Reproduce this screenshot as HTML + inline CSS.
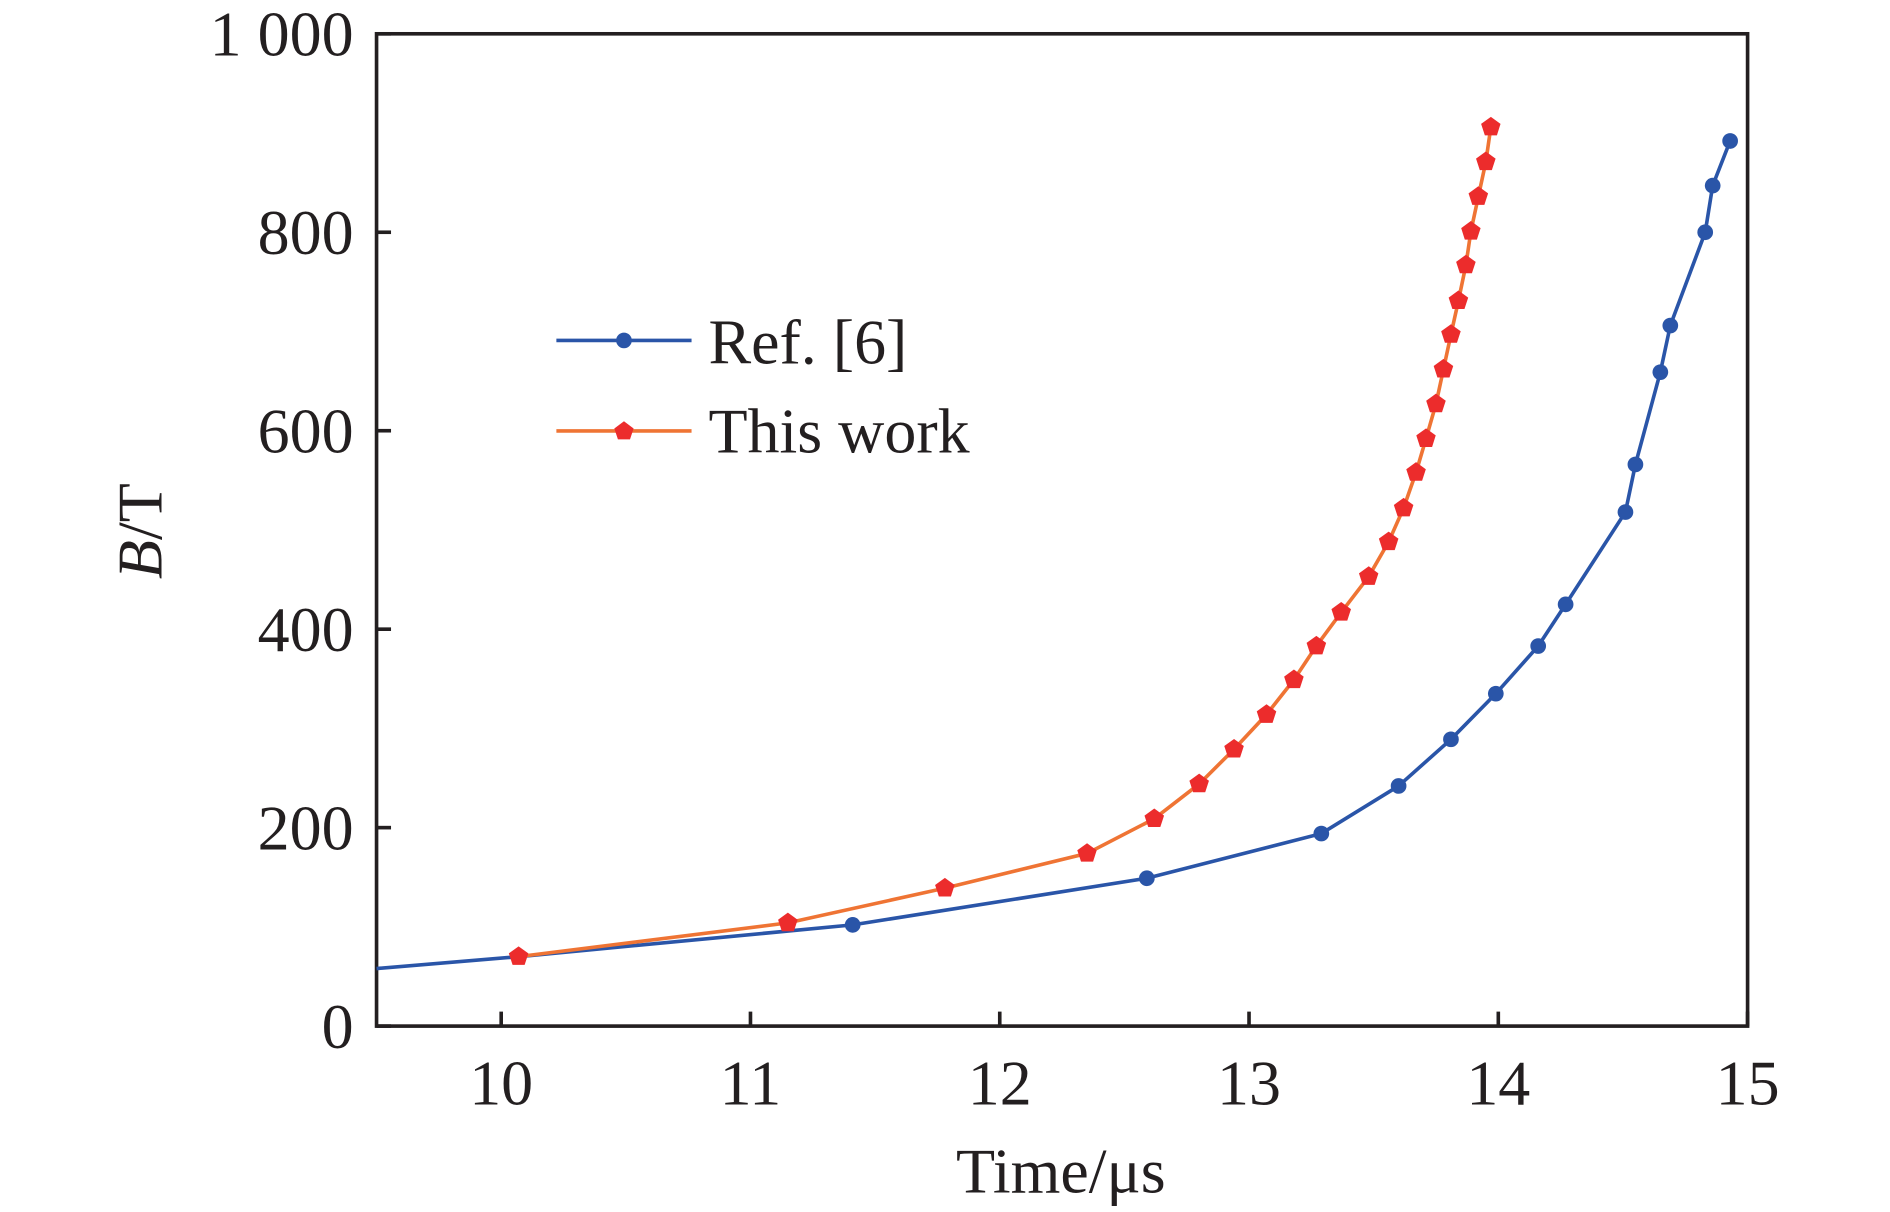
<!DOCTYPE html>
<html><head><meta charset="utf-8"><style>
html,body{margin:0;padding:0;background:#fff;}
svg{display:block;font-family:"Liberation Serif",serif;}
</style></head><body>
<svg id="chart" width="1890" height="1212" viewBox="2 0 1566 1004" preserveAspectRatio="none">
<g id="axes"></g><g id="series"></g>
<g>
<line x1="463" y1="282" x2="575" y2="282" stroke="#2a55a8" stroke-width="3"/>
<circle cx="519" cy="282" r="6.5" fill="#2a55a8"/>
<text x="589" y="301" font-size="53" fill="#231f20">Ref. [6]</text>
<line x1="463" y1="357" x2="575" y2="357" stroke="#ef7434" stroke-width="3"/>
<polygon points="519,349 527,355 524,364 514,364 511,355" fill="#ec2c2c"/>
<text x="589" y="375" font-size="53" fill="#231f20">This work</text>
</g>
<text x="881" y="988" font-size="53" text-anchor="middle" fill="#231f20">Time/μs</text>
<text transform="translate(136,440) rotate(-90)" font-size="53" text-anchor="middle" fill="#231f20"><tspan font-style="italic">B</tspan>/T</text>
</svg>
<script>
const xTicks=[10,11,12,13,14,15];
const yTicks=[0,200,400,600,800,1000];
const yTickLabels=["0","200","400","600","800","1 000"];
const refT=[9.5,10.07,11.41,12.59,13.29,13.60,13.81,13.99,14.16,14.27,14.51,14.55,14.65,14.69,14.83,14.86,14.93];
const refB=[58,70,102,149,194,242,289,335,383,425,518,566,659,706,800,847,892];
const workT=[10.07,11.15,11.78,12.35,12.62,12.80,12.94,13.07,13.18,13.27,13.37,13.48,13.56,13.62,13.67,13.71,13.75,13.78,13.81,13.84,13.87,13.89,13.92,13.95,13.97];
const workB=[70,104,139,174,209,244,279,314,349,383,417,453,488,522,558,592,627,662,697,731,767,801,836,871,906];
const L=314,R=1450,T=28,B=850,X0=9.5,X1=15;
const sx=v=>L+(v-X0)/(X1-X0)*(R-L);
const sy=v=>B-v/1000*(B-T);
const NS="http://www.w3.org/2000/svg";
function mk(tag,attrs,parent){const e=document.createElementNS(NS,tag);for(const k in attrs)e.setAttribute(k,attrs[k]);parent.appendChild(e);return e;}
const ax=document.getElementById('axes'),se=document.getElementById('series');
const frame=mk('rect',{x:L,y:T,width:R-L,height:B-T,fill:'none',stroke:'#231f20','stroke-width':3},ax);


xTicks.forEach(v=>{
 const l=mk('line',{x1:sx(v),x2:sx(v),y1:B,y2:B-12,stroke:'#231f20','stroke-width':3},ax);
 
 
 const t=mk('text',{x:sx(v),y:915,'font-size':53,'text-anchor':'middle',fill:'#231f20'},ax);t.textContent=v;
 
 
});
yTicks.forEach((v,i)=>{
 const l=mk('line',{x1:L,x2:L+12,y1:sy(v),y2:sy(v),stroke:'#231f20','stroke-width':3},ax);
 
 
 const t=mk('text',{x:295,y:sy(v)+18,'font-size':53,'text-anchor':'end',fill:'#231f20'},ax);t.textContent=yTickLabels[i];
 
 
});
const p1=mk('polyline',{points:refT.map((t,i)=>sx(t)+','+sy(refB[i])).join(' '),fill:'none',stroke:'#2a55a8','stroke-width':3},se);


refT.forEach((t,i)=>{if(i===0)return;
 const c=mk('circle',{cx:sx(t),cy:sy(refB[i]),r:6.5,fill:'#2a55a8'},se);
 
 
});
const p2=mk('polyline',{points:workT.map((t,i)=>sx(t)+','+sy(workB[i])).join(' '),fill:'none',stroke:'#ef7434','stroke-width':3},se);


workT.forEach((t,i)=>{const x=sx(t),y=sy(workB[i]),r=8.5;
 const pts=[];for(let k=0;k<5;k++){const a=-Math.PI/2+k*2*Math.PI/5;pts.push((x+r*Math.cos(a)).toFixed(1)+','+(y+r*Math.sin(a)).toFixed(1));}
 const p=mk('polygon',{points:pts.join(' '),fill:'#ec2c2c'},se);
 
 
});
</script>
</body></html>
